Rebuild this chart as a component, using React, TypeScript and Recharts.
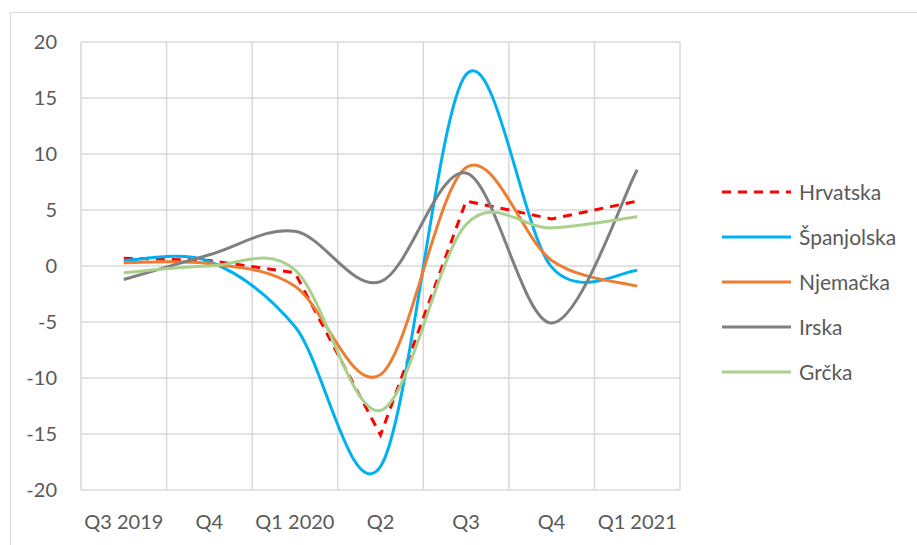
import React from 'react';
import { LineChart, Line, XAxis, YAxis, CartesianGrid } from 'recharts';

const categories = ['Q3 2019', 'Q4', 'Q1 2020', 'Q2', 'Q3', 'Q4', 'Q1 2021'];
const hrvatska = [0.7, 0.5, -0.6, -15.1, 5.8, 4.2, 5.8];
const spanjolska = [0.5, 0.4, -5.4, -17.9, 17.1, -0.1, -0.4];
const njemacka = [0.3, 0.2, -1.8, -9.7, 8.8, 0.5, -1.8];
const irska = [-1.2, 1.0, 3.1, -1.4, 8.3, -5.1, 8.6];
const grcka = [-0.6, 0.0, -0.35, -12.9, 3.7, 3.4, 4.4];
const yTicks = [-20, -15, -10, -5, 0, 5, 10, 15, 20];

const seriesNames = ['Hrvatska', 'Španjolska', 'Njemačka', 'Irska', 'Grčka'];
const seriesKeys = ['hr', 'es', 'de', 'ie', 'gr'];
const seriesValues = [hrvatska, spanjolska, njemacka, irska, grcka];
const seriesColors = ['#FF0000', '#00B0F0', '#ED7D31', '#7F7F7F', '#A9D18E'];
const seriesDash = ['9 7', undefined, undefined, undefined, undefined];
const seriesSmooth = [false, true, true, true, true];

const data = categories.map((label, i) => {
  const row: any = { label };
  seriesKeys.forEach((k, s) => {
    row[k] = seriesValues[s][i];
  });
  return row;
});

// Excel-like smoothed line (Catmull-Rom through the points)
function excelCurve(context: any) {
  let pts: number[][] = [];
  return {
    areaStart() {},
    areaEnd() {},
    lineStart() {
      pts = [];
    },
    lineEnd() {
      const n = pts.length;
      if (n === 0) return;
      context.moveTo(pts[0][0], pts[0][1]);
      for (let i = 0; i < n - 1; i++) {
        const p0 = pts[Math.max(i - 1, 0)];
        const p1 = pts[i];
        const p2 = pts[i + 1];
        const p3 = pts[Math.min(i + 2, n - 1)];
        context.bezierCurveTo(
          p1[0] + (p2[0] - p0[0]) / 6,
          p1[1] + (p2[1] - p0[1]) / 6,
          p2[0] - (p3[0] - p1[0]) / 6,
          p2[1] - (p3[1] - p1[1]) / 6,
          p2[0],
          p2[1]
        );
      }
    },
    point(x: number, y: number) {
      pts.push([+x, +y]);
    },
  };
}

const FONT = 'Lato, "Open Sans", sans-serif';
const TEXT = '#595959';
const GRID = '#D9D9D9';

const CHART_W = 917;
const CHART_H = 545;
const MARGIN = { top: 42, right: 237, bottom: 25, left: 31 };
const Y_AXIS_W = 50;
const X_AXIS_H = 30;
const PLOT_W = CHART_W - MARGIN.left - MARGIN.right - Y_AXIS_W;
const HALF_BAND = PLOT_W / categories.length / 2;

function Legend() {
  return (
    <div
      style={{
        position: 'absolute',
        left: 722,
        top: 169,
        fontFamily: FONT,
        fontSize: 21,
        color: TEXT,
      }}
    >
      {seriesNames.map((name, i) => (
        <div key={name} style={{ height: 45, display: 'flex', alignItems: 'center' }}>
          <svg width={70} height={10} style={{ display: 'block' }}>
            <line
              x1={0}
              y1={5}
              x2={69}
              y2={5}
              stroke={seriesColors[i]}
              strokeWidth={3}
              strokeDasharray={seriesDash[i]}
            />
          </svg>
          <span style={{ marginLeft: 7, lineHeight: '45px' }}>{name}</span>
        </div>
      ))}
    </div>
  );
}

export default function App() {
  return (
    <div
      style={{
        position: 'absolute',
        left: 0,
        top: 0,
        width: 917,
        height: 545,
        overflow: 'hidden',
        background: '#fff',
      }}
    >
      <div
        style={{
          position: 'absolute',
          left: 10,
          top: 12,
          width: 920,
          height: 560,
          border: '1px solid #D9D9D9',
          boxSizing: 'border-box',
        }}
      />
      <div style={{ position: 'absolute', left: 0, top: 0 }}>
        <LineChart width={CHART_W} height={CHART_H} data={data} margin={MARGIN}>
          <CartesianGrid
            stroke={GRID}
            strokeWidth={1.5}
            verticalCoordinatesGenerator={({ offset }: any) =>
              Array.from(
                { length: categories.length + 1 },
                (_, i) => offset.left + (i * offset.width) / categories.length
              )
            }
          />
          <XAxis
            dataKey="label"
            axisLine={false}
            tickLine={false}
            tickSize={0}
            tickMargin={25}
            height={X_AXIS_H}
            interval={0}
            padding={{ left: HALF_BAND, right: HALF_BAND }}
            tick={{ fill: TEXT, fontSize: 20, fontFamily: FONT }}
          />
          <YAxis
            type="number"
            domain={[-20, 20]}
            ticks={yTicks}
            interval={0}
            axisLine={false}
            tickLine={false}
            tickSize={0}
            tickMargin={24}
            width={Y_AXIS_W}
            tick={{ fill: TEXT, fontSize: 20, fontFamily: FONT }}
          />
          {seriesKeys.map((k, i) => (
            <Line
              key={k}
              dataKey={k}
              name={seriesNames[i]}
              type={seriesSmooth[i] ? (excelCurve as any) : 'linear'}
              stroke={seriesColors[i]}
              strokeWidth={3}
              strokeDasharray={seriesDash[i]}
              dot={false}
              activeDot={false}
              isAnimationActive={false}
            />
          ))}
        </LineChart>
      </div>
      <Legend />
    </div>
  );
}
